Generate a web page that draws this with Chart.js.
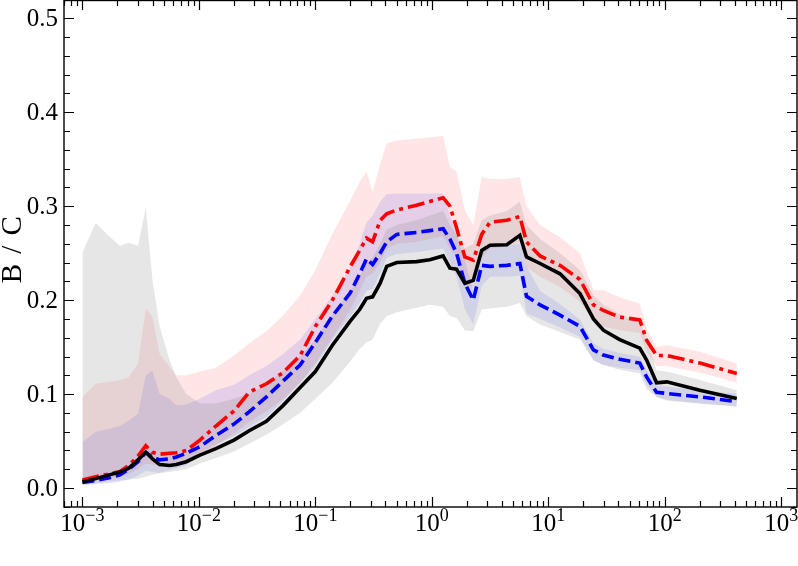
<!DOCTYPE html>
<html>
<head>
<meta charset="utf-8">
<script src="https://cdn.jsdelivr.net/npm/chart.js@4.4.0/dist/chart.umd.min.js"></script>
<style>
    html, body { margin: 0; padding: 0; background: #fff; }
    #wrap { width: 798px; height: 566px; position: relative; }
</style>
</head>
<body>
<div id="wrap"><canvas id="chart"></canvas></div>
<script>
// x positions shared by every series
const xs = [0.001, 0.0013, 0.0017, 0.0021, 0.0025, 0.003, 0.0035, 0.004, 0.0046, 0.0056, 0.0064, 0.0078,
    0.0102, 0.014, 0.02, 0.027, 0.038, 0.053, 0.074, 0.1, 0.14, 0.2, 0.24, 0.275, 0.31, 0.36, 0.41, 0.5,
    0.74, 0.96, 1.25, 1.43, 1.63, 1.92, 2.27, 2.68, 3.16, 4.4, 5.7, 6.5, 8.5, 12.6, 18.7, 24.4, 29.7, 41,
    61, 70, 85, 104, 200, 415];

// central lines
const black = [0.0064, 0.010, 0.014, 0.017, 0.021, 0.030, 0.038, 0.031, 0.025, 0.024, 0.025, 0.028,
    0.035, 0.042, 0.051, 0.061, 0.071, 0.088, 0.107, 0.124, 0.152, 0.178, 0.19, 0.202, 0.2035, 0.218, 0.236, 0.240,
    0.241, 0.243, 0.247, 0.234, 0.233, 0.218, 0.221, 0.253, 0.2585, 0.259, 0.269, 0.246, 0.239, 0.228, 0.207, 0.18,
    0.168, 0.158, 0.149, 0.136, 0.112, 0.113, 0.104, 0.0954];
const blue = [0.006, 0.008, 0.011, 0.014, 0.020, 0.028, 0.038, 0.033, 0.030, 0.031, 0.033, 0.037,
    0.044, 0.056, 0.068, 0.081, 0.097, 0.114, 0.131, 0.155, 0.183, 0.208, 0.228, 0.244, 0.238, 0.25, 0.262, 0.270,
    0.272, 0.274, 0.276, 0.265, 0.25, 0.218, 0.2, 0.237, 0.236, 0.237, 0.239, 0.204, 0.195, 0.184, 0.172, 0.147,
    0.1415, 0.137, 0.133, 0.118, 0.102, 0.1007, 0.097, 0.092];
const red = [0.0085, 0.012, 0.015, 0.0175, 0.024, 0.034, 0.045, 0.038, 0.036, 0.037, 0.0375, 0.040,
    0.051, 0.066, 0.082, 0.102, 0.111, 0.123, 0.141, 0.172, 0.200, 0.236, 0.253, 0.266, 0.262, 0.285, 0.292, 0.296,
    0.301, 0.305, 0.309, 0.300, 0.277, 0.246, 0.2426, 0.270, 0.283, 0.285, 0.289, 0.262, 0.247, 0.237, 0.222, 0.195,
    0.189, 0.182, 0.179, 0.157, 0.141, 0.141, 0.133, 0.122];

// bands (upper / lower)
const grayHi = [0.251, 0.282, 0.268, 0.258, 0.261, 0.258, 0.298, 0.221, 0.172, 0.136, 0.118, 0.10,
    0.09, 0.09, 0.095, 0.10, 0.11, 0.125, 0.14, 0.158, 0.185, 0.21, 0.225, 0.24, 0.245, 0.26, 0.275, 0.28,
    0.285, 0.29, 0.295, 0.28, 0.27, 0.255, 0.26, 0.285, 0.29, 0.295, 0.305, 0.28, 0.265, 0.25, 0.232, 0.205,
    0.195, 0.185, 0.176, 0.16, 0.125, 0.124, 0.115, 0.104];
const grayLo = [0.004, 0.005, 0.007, 0.008, 0.009, 0.010, 0.012, 0.014, 0.016, 0.017, 0.018, 0.020,
    0.026, 0.032, 0.039, 0.047, 0.057, 0.068, 0.08, 0.095, 0.112, 0.135, 0.148, 0.155, 0.158, 0.175, 0.183, 0.187,
    0.192, 0.195, 0.193, 0.183, 0.181, 0.168, 0.167, 0.19, 0.191, 0.193, 0.197, 0.183, 0.174, 0.166, 0.158, 0.136,
    0.131, 0.126, 0.122, 0.105, 0.097, 0.093, 0.09, 0.087];
const blueHi = [0.049, 0.06, 0.063, 0.066, 0.072, 0.079, 0.12, 0.125, 0.10, 0.095, 0.088, 0.089,
    0.095, 0.104, 0.11, 0.12, 0.13, 0.143, 0.158, 0.18, 0.205, 0.235, 0.26, 0.283, 0.29, 0.305, 0.313, 0.3135,
    0.3135, 0.3135, 0.3135, 0.29, 0.27, 0.243, 0.21, 0.253, 0.256, 0.258, 0.26, 0.236, 0.21, 0.196, 0.179, 0.154,
    0.148, 0.144, 0.1397, 0.126, 0.109, 0.108, 0.104, 0.1007];
const blueLo = [0.003, 0.004, 0.005, 0.0067, 0.009, 0.013, 0.018, 0.017, 0.016, 0.019, 0.021, 0.024,
    0.038, 0.046, 0.055, 0.065, 0.076, 0.093, 0.112, 0.13, 0.158, 0.183, 0.197, 0.21, 0.212, 0.228, 0.245, 0.249,
    0.251, 0.253, 0.255, 0.24, 0.225, 0.19, 0.174, 0.215, 0.2248, 0.225, 0.226, 0.186, 0.18, 0.171, 0.161, 0.136,
    0.131, 0.128, 0.1255, 0.11, 0.097, 0.094, 0.09, 0.0865];
const redHi = [0.097, 0.111, 0.113, 0.115, 0.118, 0.1326, 0.191, 0.182, 0.143, 0.129, 0.120, 0.12,
    0.124, 0.128, 0.141, 0.154, 0.167, 0.184, 0.205, 0.232, 0.271, 0.306, 0.326, 0.337, 0.315, 0.345, 0.367, 0.37,
    0.372, 0.373, 0.375, 0.342, 0.337, 0.296, 0.28, 0.331, 0.329, 0.329, 0.331, 0.300, 0.28, 0.267, 0.25, 0.211,
    0.2106, 0.203, 0.1965, 0.17, 0.15, 0.152, 0.145, 0.1327];
const redLo = [0.007, 0.008, 0.01, 0.012, 0.015, 0.02, 0.026, 0.025, 0.024, 0.025, 0.026, 0.028,
    0.033, 0.045, 0.058, 0.07, 0.082, 0.095, 0.112, 0.133, 0.16, 0.19, 0.21, 0.225, 0.228, 0.24, 0.255, 0.26,
    0.262, 0.265, 0.268, 0.255, 0.245, 0.215, 0.213, 0.245, 0.255, 0.257, 0.262, 0.235, 0.225, 0.214, 0.198, 0.178,
    0.172, 0.168, 0.165, 0.145, 0.13, 0.13, 0.123, 0.112];

// axes
const xTickExps = [-3, -2, -1, 0, 1, 2, 3];
const yTicks = [0, 0.1, 0.2, 0.3, 0.4, 0.5];
const X_MIN = 6.95e-4, X_MAX = 1365;
const Y_MIN = -0.0202, Y_MAX = 0.5195;

const FONT = "'Liberation Serif', 'DejaVu Serif', serif";

function pts(arr) {
    return xs.map((x, i) => ({ x: x, y: arr[i] }));
}

function band(arr, color, fill) {
    return { data: pts(arr), borderWidth: 0, pointRadius: 0, fill: fill, backgroundColor: color };
}

// frame, inward ticks, tick labels, y title
const decorations = {
    id: 'decorations',
    afterDraw(chart) {
        const { ctx, chartArea: a, scales: { x, y } } = chart;
        ctx.save();
        ctx.strokeStyle = '#000';
        ctx.lineWidth = 1.4;
        ctx.strokeRect(a.left, a.top + 0.5, a.right - a.left, a.bottom - a.top - 0.5);

        ctx.lineWidth = 1.2;
        ctx.beginPath();
        for (let e = -4; e <= 3; e++) {
            for (let k = 1; k <= 9; k++) {
                const v = k * Math.pow(10, e);
                if (v < X_MIN || v > X_MAX) continue;
                const px = Math.round(x.getPixelForValue(v)) + 0.5;
                const len = k === 1 ? 10 : 6;
                ctx.moveTo(px, a.bottom); ctx.lineTo(px, a.bottom - len);
                ctx.moveTo(px, a.top); ctx.lineTo(px, a.top + len);
            }
        }
        for (let i = -1; i <= 26; i++) {
            const v = i * 0.02;
            if (v < Y_MIN || v > Y_MAX) continue;
            const py = Math.round(y.getPixelForValue(v)) + 0.5;
            const len = i % 5 === 0 ? 10 : 6;
            ctx.moveTo(a.left, py); ctx.lineTo(a.left + len, py);
            ctx.moveTo(a.right, py); ctx.lineTo(a.right - len, py);
        }
        ctx.stroke();

        ctx.fillStyle = '#000';

        // y tick labels
        ctx.textAlign = 'right';
        ctx.textBaseline = 'middle';
        ctx.font = '25px ' + FONT;
        yTicks.forEach(v => {
            ctx.fillText(v.toFixed(1), a.left - 6, y.getPixelForValue(v) + 1);
        });

        // x tick labels, 10 with a raised exponent
        ctx.textBaseline = 'alphabetic';
        ctx.textAlign = 'left';
        xTickExps.forEach(e => {
            const px = x.getPixelForValue(Math.pow(10, e));
            const base = '10';
            const sup = e < 0 ? '\u2212' + (-e) : String(e);
            ctx.font = '25px ' + FONT;
            const w1 = ctx.measureText(base).width;
            ctx.font = '18px ' + FONT;
            const w2 = ctx.measureText(sup).width;
            const left = px - (w1 + w2) / 2;
            ctx.font = '25px ' + FONT;
            ctx.fillText(base, left, 531);
            ctx.font = '18px ' + FONT;
            ctx.fillText(sup, left + w1, 521);
        });

        // y axis title
        ctx.translate(13, 249);
        ctx.rotate(-Math.PI / 2);
        ctx.textAlign = 'center';
        ctx.textBaseline = 'middle';
        ctx.font = '29px ' + FONT;
        ctx.letterSpacing = '1.5px';
        ctx.fillText('B / C', 0, 0);
        ctx.restore();
    }
};

new Chart(document.getElementById('chart'), {
    type: 'line',
    data: {
        datasets: [
            band(grayHi, 'rgba(128, 128, 128, 0.2)', '+1'),
            band(grayLo, 'transparent', false),
            band(blueHi, 'rgba(0, 0, 255, 0.1)', '+1'),
            band(blueLo, 'transparent', false),
            band(redHi, 'rgba(255, 0, 0, 0.1)', '+1'),
            band(redLo, 'transparent', false),
            { data: pts(black), borderColor: '#000', borderWidth: 3.6, pointRadius: 0, fill: false },
            { data: pts(blue), borderColor: '#0000ff', borderWidth: 3.6, borderDash: [12, 5], pointRadius: 0, fill: false },
            { data: pts(red), borderColor: '#ff0000', borderWidth: 3.6, borderDash: [17, 5, 4, 5], pointRadius: 0, fill: false }
        ]
    },
    options: {
        responsive: true,
        maintainAspectRatio: false,
        animation: false,
        layout: { padding: { top: 0, right: 1, left: 0, bottom: 0 } },
        plugins: {
            legend: { display: false },
            tooltip: { enabled: false },
            filler: { drawTime: 'beforeDatasetsDraw' }
        },
        scales: {
            x: {
                type: 'logarithmic',
                min: X_MIN,
                max: X_MAX,
                grid: { display: false, drawTicks: false },
                border: { display: false },
                ticks: { display: false },
                afterFit(scale) { scale.height = 59; }
            },
            y: {
                min: Y_MIN,
                max: Y_MAX,
                grid: { display: false, drawTicks: false },
                border: { display: false },
                ticks: { display: false },
                afterFit(scale) { scale.width = 64; }
            }
        }
    },
    plugins: [decorations]
});
</script>
</body>
</html>
